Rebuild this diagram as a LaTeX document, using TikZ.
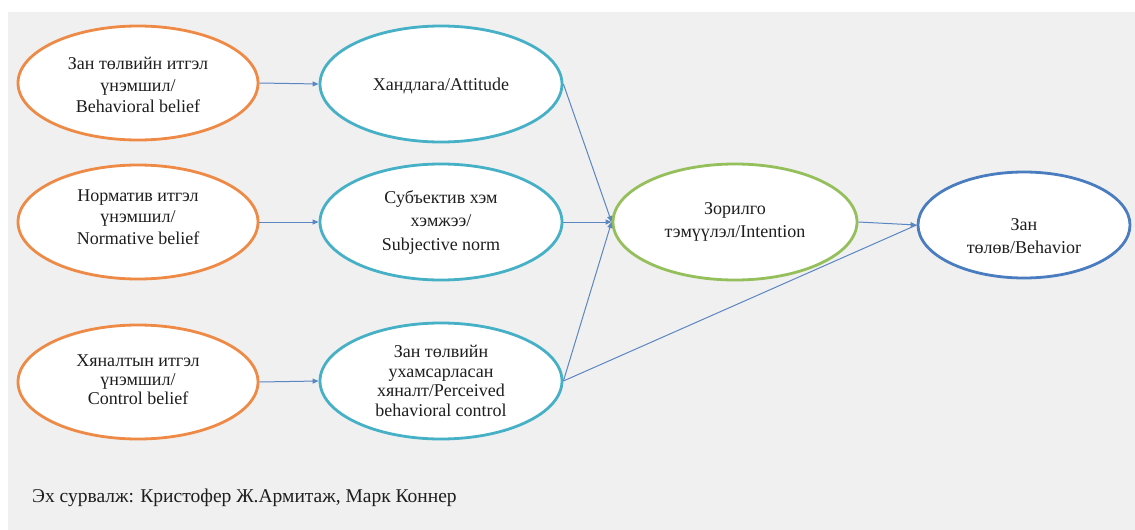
\documentclass[tikz,border=0pt]{standalone}
\usepackage{fontspec}
\setmainfont{Liberation Serif}
\usetikzlibrary{shapes.geometric,arrows.meta}

\definecolor{beliefc}{HTML}{EE8A45}
\definecolor{factorc}{HTML}{45B0C6}
\definecolor{intentc}{HTML}{94BF5A}
\definecolor{behavc}{HTML}{4A7CC0}
\definecolor{linkc}{HTML}{5B86C2}
\definecolor{paper}{HTML}{F0F0F0}
\definecolor{ink}{HTML}{1E1E1E}

\tikzset{
  oval/.style={ellipse, fill=white, line width=2.8pt, inner sep=0pt},
  belief/.style={oval, draw=beliefc, minimum width=240pt, minimum height=114pt},
  factor/.style={oval, draw=factorc, minimum width=242pt, minimum height=116pt},
  intent/.style={oval, draw=intentc, minimum width=244pt, minimum height=116pt},
  behav/.style={oval, draw=behavc, minimum width=212pt, minimum height=106pt},
  txt/.style={align=center, text=ink, inner sep=0pt, font=\fontsize{18}{21.7}\selectfont},
  link/.style={draw=linkc, line width=1pt, -{Triangle[length=6pt,width=5pt]}},
  joint/.style={draw=linkc, line width=1pt}
}

\begin{document}
\begin{tikzpicture}[x=1pt,y=-1pt]
\useasboundingbox (0,0) rectangle (1135,530);
\fill[white] (0,0) rectangle (1135,530);
\fill[paper] (8,12) rectangle (1135,530);

% beliefs
\node[belief] (bb) at (138,83) {};
\node[belief] (nb) at (138,222) {};
\node[belief] (cb) at (138,382) {};
% determinants
\node[factor] (att) at (441,84) {};
\node[factor] (sn)  at (441,222) {};
\node[factor] (pbc) at (441,381) {};
% intention and behaviour
\node[intent] (int) at (735,222) {};
\node[behav]  (beh) at (1024,225) {};

\node[txt] at ([yshift=-2pt]bb.center) {Зан төлвийн итгэл\\үнэмшил/\\Behavioral belief};
\node[txt] at ([yshift=5pt]nb.center) {Норматив итгэл\\үнэмшил/\\Normative belief};
\node[txt, font=\fontsize{18}{19}\selectfont] at ([yshift=2pt]cb.center) {Хяналтын итгэл\\үнэмшил/\\Control belief};
\node[txt] at ([yshift=-2pt]att.center) {Хандлага/Attitude};
\node[txt, font=\fontsize{18}{23.5}\selectfont] at (sn.center) {Субъектив хэм\\хэмжээ/\\Subjective norm};
\node[txt, font=\fontsize{18}{19.5}\selectfont] at (pbc.center) {Зан төлвийн\\ухамсарласан\\хяналт/Perceived\\behavioral control};
\node[txt, font=\fontsize{18}{23}\selectfont] at (int.center) {Зорилго\\тэмүүлэл/Intention};
\node[txt, font=\fontsize{18}{23}\selectfont] at ([yshift=-11pt]beh.center) {Зан\\төлөв/Behavior};

% connectors
\draw[link] (bb.east) -- (att.west);
\draw[link] (nb.east) -- (sn.west);
\draw[link] (cb.east) -- (pbc.west);
\draw[link] (att.east) -- (int.west);
\draw[link] (sn.east) -- (int.west);
\draw[link] (pbc.east) -- (int.west);
\draw[link] (int.east) -- (beh.west);
\draw[joint] (pbc.east) -- (beh.west);

% source line
\node[anchor=base west, inner sep=0pt, text=ink, font=\fontsize{19.5}{23}\selectfont] (src) at (32,502) {Эх сурвалж: Кристофер Ж.Армитаж, Марк Коннер};
\end{tikzpicture}
\end{document}
